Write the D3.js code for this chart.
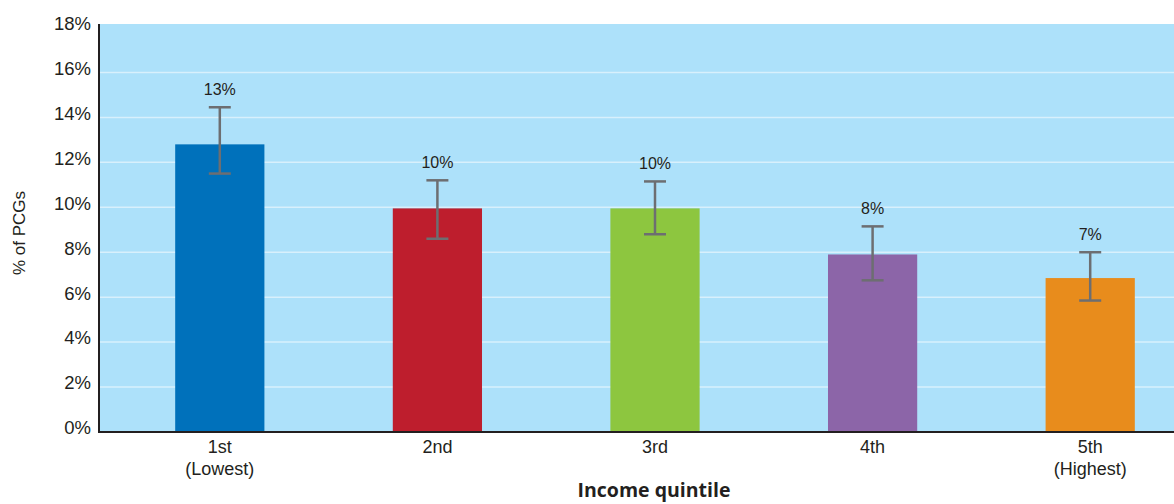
<!DOCTYPE html>
<html><head><meta charset="utf-8">
<script src="https://cdn.jsdelivr.net/npm/d3@7"></script>
<style>body{margin:0;background:#fff}svg{display:block}</style>
</head><body><svg id="c" width="1174" height="504"></svg>
<script>
const categories = ["1st\n(Lowest)", "2nd", "3rd", "4th", "5th\n(Highest)"];
const values = [12.8, 9.95, 9.95, 7.9, 6.85];
const errLow = [11.5, 8.6, 8.8, 6.75, 5.85];
const errHigh = [14.45, 11.2, 11.15, 9.15, 8.0];
const valueLabels = ["13%", "10%", "10%", "8%", "7%"];
const colors = ["#0071bb", "#be1e2d", "#8dc63f", "#8c65a8", "#e88c1c"];
const yTicks = [0, 2, 4, 6, 8, 10, 12, 14, 16, 18];

(function () {
const svg = d3.select("#c");
const pLeft = 99, pRight = 1174, pTop = 24, pBottom = 432;
const font = "'Liberation Sans', Arial, sans-serif";

const y = d3.scaleLinear().domain([0, 18]).range([432, 27.5]);
const x = d3.scaleBand().domain(categories).range([111, 1199]).paddingInner(0.59).paddingOuter(0.295);

svg.append("rect").attr("x", pLeft).attr("y", pTop).attr("width", pRight - pLeft).attr("height", pBottom - pTop).attr("fill", "#ade1fa");

svg.append("g").selectAll("line").data(yTicks.filter(d => d > 0 && d < 18)).join("line")
  .attr("x1", pLeft).attr("x2", pRight).attr("y1", d => y(d)).attr("y2", d => y(d))
  .attr("stroke", "#d8f0fc").attr("stroke-width", 1.5);

// y axis
const yAxis = svg.append("g").attr("transform", `translate(${pLeft},0)`)
  .call(d3.axisLeft(y).tickValues(yTicks).tickFormat(d => d + "%").tickSize(0).tickPadding(8));
yAxis.select(".domain").remove();
yAxis.selectAll("text").attr("font-family", font).attr("font-size", 18.5).attr("fill", "#231f20").attr("dy", "0.1em");

// bars
svg.append("g").selectAll("rect").data(values).join("rect")
  .attr("x", (d, i) => x(categories[i])).attr("width", x.bandwidth())
  .attr("y", d => y(d)).attr("height", d => y(0) - y(d))
  .attr("fill", (d, i) => colors[i]);

// error bars
const eg = svg.append("g").attr("stroke", "#6d6e71").attr("stroke-width", 2.5);
categories.forEach((c, i) => {
  const cx = x(c) + x.bandwidth() / 2;
  eg.append("line").attr("x1", cx).attr("x2", cx).attr("y1", y(errLow[i])).attr("y2", y(errHigh[i]));
  eg.append("line").attr("x1", cx - 11).attr("x2", cx + 11).attr("y1", y(errLow[i])).attr("y2", y(errLow[i]));
  eg.append("line").attr("x1", cx - 11).attr("x2", cx + 11).attr("y1", y(errHigh[i])).attr("y2", y(errHigh[i]));
});

// value labels
svg.append("g").selectAll("text").data(valueLabels).join("text")
  .attr("x", (d, i) => x(categories[i]) + x.bandwidth() / 2)
  .attr("y", (d, i) => y(errHigh[i]) - 12)
  .attr("text-anchor", "middle").attr("font-family", font).attr("font-size", 16).attr("fill", "#231f20")
  .text(d => d);

// axes lines
svg.append("line").attr("x1", pLeft).attr("x2", pLeft).attr("y1", pTop).attr("y2", pBottom + 1)
  .attr("stroke", "#231f20").attr("stroke-width", 2);
svg.append("line").attr("x1", pLeft - 1).attr("x2", pRight).attr("y1", pBottom).attr("y2", pBottom)
  .attr("stroke", "#231f20").attr("stroke-width", 2);

// category labels
const cl = svg.append("g").selectAll("text").data(categories).join("text")
  .attr("x", d => x(d) + x.bandwidth() / 2).attr("y", 453)
  .attr("text-anchor", "middle").attr("font-family", font).attr("font-size", 18).attr("fill", "#231f20");
cl.each(function(d) {
  const t = d3.select(this);
  d.split("\n").forEach((s, k) => {
    t.append("tspan").attr("x", t.attr("x")).attr("dy", k === 0 ? 0 : 22).text(s);
  });
});

// axis titles
svg.append("text").attr("transform", "translate(25,233) rotate(-90)")
  .attr("text-anchor", "middle").attr("font-family", font).attr("font-size", 17).attr("fill", "#231f20")
  .text("% of PCGs");
svg.append("text").attr("x", 654).attr("y", 497)
  .attr("text-anchor", "middle").attr("font-family", "'Open Sans', sans-serif").attr("font-weight", 700)
  .attr("font-size", 19.5).attr("fill", "#231f20").text("Income quintile");
})();
</script></body></html>
